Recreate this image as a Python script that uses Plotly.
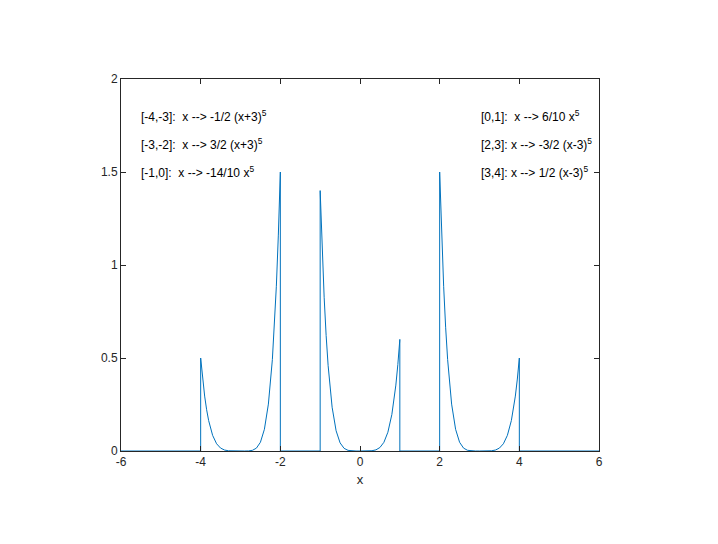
import plotly.graph_objects as go

# Curve samples (piecewise pieces, zero elsewhere)
x_vals = [-6, -4,
          -4.0, -3.95, -3.9, -3.85, -3.8, -3.7, -3.6, -3.5, -3.4, -3.3, -3.2, -3.1, -3.0,
          -2.9, -2.8, -2.7, -2.6, -2.5, -2.4, -2.3, -2.2, -2.15, -2.1, -2.05, -2.0,
          -2.0, -1.0,
          -1.0, -0.95, -0.9, -0.85, -0.8, -0.7, -0.6, -0.5, -0.4, -0.3, -0.2, -0.1, 0.0,
          0.1, 0.2, 0.3, 0.4, 0.5, 0.6, 0.7, 0.8, 0.85, 0.9, 0.95, 1.0,
          1.0, 2.0,
          2.0, 2.05, 2.1, 2.15, 2.2, 2.3, 2.4, 2.5, 2.6, 2.7, 2.8, 2.9, 3.0,
          3.1, 3.2, 3.3, 3.4, 3.5, 3.6, 3.7, 3.8, 3.85, 3.9, 3.95, 4.0,
          4.0, 6]
y_vals = [0, 0,
          0.5, 0.3869, 0.29525, 0.22185, 0.16384, 0.08404, 0.03888, 0.015625, 0.00512, 0.001215, 0.00016, 0.000005, 0.0,
          0.000015, 0.00048, 0.003645, 0.01536, 0.046875, 0.11664, 0.252105, 0.49152, 0.66556, 0.885735, 1.16071, 1.5,
          0, 0,
          1.4, 1.08332, 0.826686, 0.62119, 0.458752, 0.235298, 0.108864, 0.04375, 0.014336, 0.003402, 0.000448, 0.000014, 0.0,
          0.000006, 0.000192, 0.001458, 0.006144, 0.01875, 0.046656, 0.100842, 0.196608, 0.26622, 0.354294, 0.46428, 0.6,
          0, 0,
          1.5, 1.16071, 0.885735, 0.66556, 0.49152, 0.252105, 0.11664, 0.046875, 0.01536, 0.003645, 0.00048, 0.000015, 0.0,
          0.000005, 0.00016, 0.001215, 0.00512, 0.015625, 0.03888, 0.08404, 0.16384, 0.22185, 0.29525, 0.3869, 0.5,
          0, 0]

left_labels = ["[-4,-3]:  x --> -1/2 (x+3)<sup>5</sup>",
               "[-3,-2]:  x --> 3/2 (x+3)<sup>5</sup>",
               "[-1,0]:  x --> -14/10 x<sup>5</sup>"]
right_labels = ["[0,1]:  x --> 6/10 x<sup>5</sup>",
                "[2,3]: x --> -3/2 (x-3)<sup>5</sup>",
                "[3,4]: x --> 1/2 (x-3)<sup>5</sup>"]
label_y = [1.8, 1.65, 1.5]
x_ticks = [-6, -4, -2, 0, 2, 4, 6]
y_ticks = [0, 0.5, 1, 1.5, 2]

fig = go.Figure()
fig.add_trace(go.Scatter(x=x_vals, y=y_vals, mode="lines",
                         line=dict(color="#0072BD", width=1), showlegend=False))

for txt, yy in zip(left_labels, label_y):
    fig.add_annotation(x=-5.55, y=yy, text=txt, showarrow=False,
                       xanchor="left", yanchor="middle",
                       font=dict(size=12, color="#000000"))
for txt, yy in zip(right_labels, label_y):
    fig.add_annotation(x=2.98, y=yy, text=txt, showarrow=False,
                       xanchor="left", yanchor="middle",
                       font=dict(size=12, color="#000000"))

axis_common = dict(showgrid=False, zeroline=False, showline=True,
                   linecolor="#262626", linewidth=1, mirror="ticks",
                   ticks="inside", ticklen=5, tickcolor="#262626",
                   tickfont=dict(size=12, color="#262626"))

fig.update_xaxes(range=[-6, 6], tickvals=x_ticks,
                 ticktext=[str(v) for v in x_ticks],
                 title=dict(text="x", font=dict(size=13, color="#262626"), standoff=6),
                 **axis_common)
fig.update_yaxes(range=[0, 2], tickvals=y_ticks,
                 ticktext=["0", "0.5", "1", "1.5", "2"],
                 **axis_common)

fig.update_layout(width=718, height=544,
                  margin=dict(l=113, r=127, t=71, b=101),
                  paper_bgcolor="white", plot_bgcolor="white",
                  font=dict(family="Liberation Sans, Arial, sans-serif", size=12))

fig.write_html("out.html")
